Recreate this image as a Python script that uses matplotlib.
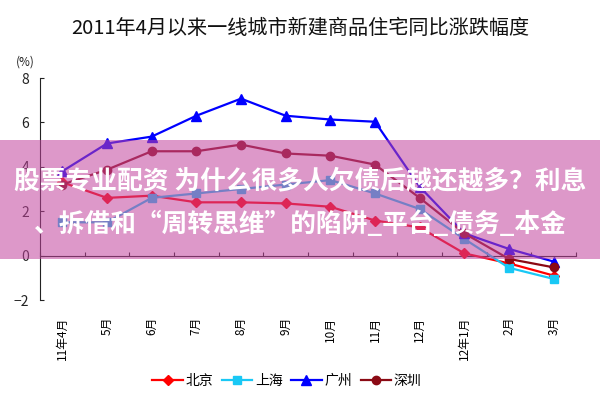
import matplotlib
matplotlib.use("Agg")
import matplotlib.pyplot as plt
from matplotlib.patches import Rectangle
from matplotlib.lines import Line2D

plt.rcParams['font.family'] = ['Noto Sans CJK SC', 'DejaVu Sans']

months = ["11年4月", "5月", "6月", "7月", "8月", "9月", "10月", "11月", "12月", "12年1月", "2月", "3月"]
beijing   = [3.3, 2.6, 2.7, 2.4, 2.4, 2.35, 2.2, 1.58, 1.27, 0.1, -0.35, -0.9]
shanghai  = [1.5, 1.5, 2.6, 2.8, 3.0, 3.2, 3.4, 2.8, 2.1, 0.75, -0.55, -1.05]
guangzhou = [3.8, 5.05, 5.36, 6.3, 7.07, 6.3, 6.13, 6.03, 3.1, 1.0, 0.3, -0.27]
shenzhen  = [3.2, 3.87, 4.7, 4.7, 5.0, 4.6, 4.5, 4.1, 2.6, 1.0, -0.15, -0.53]

names = ["北京", "上海", "广州", "深圳"]
series = [beijing, shanghai, guangzhou, shenzhen]
colors = ["#FF0000", "#19C8F5", "#0000FF", "#8B0A14"]
markers = ["D", "s", "^", "o"]
msizes = [5, 5.5, 6.5, 6]

title = "2011年4月以来一线城市新建商品住宅同比涨跌幅度"
banner1 = "股票专业配资 为什么很多人欠债后越还越多？利息"
banner2 = "、拆借和“周转思维”的陷阱_平台_债务_本金"

fig = plt.figure(figsize=(6, 4), dpi=100)
ax = fig.add_axes([40/600, 100/400, 536/600, 222/400])

x = list(range(len(months)))
for vals, c, m, ms, n in zip(series, colors, markers, msizes, names):
    ax.plot(x, vals, color=c, marker=m, markersize=ms, linewidth=1.6, label=n)

ax.set_xlim(-0.5, len(months) - 0.5)
ax.set_ylim(-2, 8)
ax.set_yticks([-2, 0, 2, 4, 6, 8])
ax.tick_params(axis='y', direction='in', length=3, labelsize=10, pad=8, colors='#222222')
for s in ['top', 'right', 'bottom']:
    ax.spines[s].set_visible(False)
ax.spines['left'].set_color('#222222')

ax.set_xticks(x)
ax.set_xticklabels(months, rotation=90, fontsize=8.5)
ax.tick_params(axis='x', length=0, pad=12)

# zero axis line with tick marks
sec = ax.secondary_xaxis(0.2)
sec.set_xticks([i - 0.5 for i in range(len(months) + 1)])
sec.tick_params(axis='x', direction='in', length=3, labelbottom=False, color='#222222')
sec.spines['bottom'].set_color('#222222')
sec.set_xticklabels([])

fig.text(25/600, 1 - 62/400, "(%)", fontsize=8.5, ha='center', va='center', color='#222222')
fig.text(0.5, 1 - 29/400, title, fontsize=14.5, ha='center', va='center', color='#111111')

handles = [Line2D([0], [0], color=c, marker=m, markersize=ms, linewidth=1.6)
           for c, m, ms in zip(colors, markers, msizes)]
fig.legend(handles, names, loc='center', bbox_to_anchor=(287/600, 1 - 381/400), ncol=4,
           frameon=False, fontsize=10, handlelength=2.2, handletextpad=0.2, columnspacing=0.6)

# overlay banner
band = Rectangle((0, (400 - 259)/400), 1, 119/400, transform=fig.transFigure,
                 facecolor='#C2449E', alpha=0.55, edgecolor='none', zorder=5)
fig.patches.append(band)
fig.text(0.5, 1 - 181/400, banner1, fontsize=18.5, weight='bold', color='white',
         ha='center', va='center', zorder=6)
fig.text(0.5, 1 - 224/400, banner2, fontsize=18.5, weight='bold', color='white',
         ha='center', va='center', zorder=6)

fig.savefig("out.png", dpi=100)
